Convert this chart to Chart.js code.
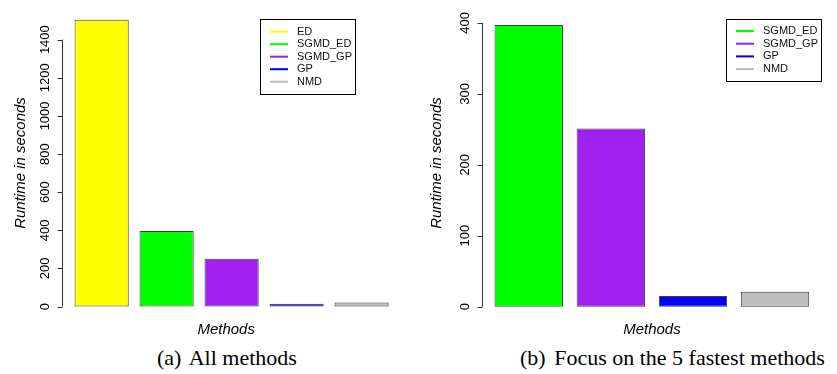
<!DOCTYPE html>
<html lang="en">
<head>
<meta charset="UTF-8">
<title>Runtime comparison</title>
<script src="https://cdn.jsdelivr.net/npm/chart.js"></script>
<style>
    body {
        margin: 0;
        background: #fff;
        width: 837px;
        height: 374px;
        position: relative;
        overflow: hidden;
    }
    .panel { position: absolute; top: 0; }
    .panel canvas { display: block; }
    .caption {
        position: absolute;
        top: 346px;
        font-family: "Liberation Serif", "Times New Roman", serif;
        font-size: 22px;
        line-height: 24px;
        white-space: nowrap;
        color: #000;
    }
    .caption span { margin-right: 3px; }
</style>
</head>
<body>
<div class="panel" style="left:0"><canvas id="allChart" width="420" height="345"></canvas></div>
<div class="panel" style="left:420px"><canvas id="fastChart" width="417" height="345"></canvas></div>
<div class="caption" style="left:157px"><span>(a)</span> All methods</div>
<div class="caption" style="left:520px"><span>(b)</span> Focus on the 5 fastest methods</div>

<script>
// (a) all methods
const allMethods = ['ED', 'SGMD_ED', 'SGMD_GP', 'GP', 'NMD'];
const allRuntimes = [1505, 396, 251, 15, 21];
const allColors = ['#ffff00', '#00ff00', '#a020f0', '#0000ff', '#bebebe'];
const allTicks = [0, 200, 400, 600, 800, 1000, 1200, 1400];

// (b) the fastest ones
const fastMethods = ['SGMD_ED', 'SGMD_GP', 'GP', 'NMD'];
const fastRuntimes = [397, 251, 15, 21];
const fastColors = ['#00ff00', '#a020f0', '#0000ff', '#bebebe'];
const fastTicks = [0, 100, 200, 300, 400];

const sans = '"Liberation Sans", Arial, sans-serif';

// R style y axis: line from first to last tick, outward tick marks
const axisLine = {
    id: 'axisLine',
    afterDraw(chart) {
        const y = chart.scales.y;
        const ctx = chart.ctx;
        const x = Math.floor(chart.chartArea.left) + 0.5;
        const t = y.ticks;
        ctx.save();
        ctx.strokeStyle = '#333';
        ctx.lineWidth = 1;
        ctx.beginPath();
        ctx.moveTo(x, y.getPixelForValue(t[0].value));
        ctx.lineTo(x, y.getPixelForValue(t[t.length - 1].value));
        t.forEach(tk => {
            const py = Math.round(y.getPixelForValue(tk.value)) + 0.5;
            ctx.moveTo(x - 5, py);
            ctx.lineTo(x, py);
        });
        ctx.stroke();
        ctx.restore();
    }
};

// boxed legend with coloured line keys
const boxLegend = {
    id: 'boxLegend',
    afterDraw(chart, args, o) {
        const ctx = chart.ctx;
        const ds = chart.data.datasets[0];
        ctx.save();
        ctx.strokeStyle = '#000';
        ctx.lineWidth = 1;
        ctx.strokeRect(o.x + 0.5, o.y + 0.5, o.w, o.h);
        ctx.font = '11px ' + sans;
        ctx.textBaseline = 'middle';
        ctx.fillStyle = '#111';
        chart.data.labels.forEach((lab, i) => {
            const ry = o.rowY + i * o.rowStep;
            ctx.strokeStyle = ds.backgroundColor[i];
            ctx.lineWidth = 2;
            ctx.beginPath();
            ctx.moveTo(o.lineX1, ry);
            ctx.lineTo(o.lineX2, ry);
            ctx.stroke();
            ctx.fillText(lab, o.textX, ry);
        });
        ctx.restore();
    }
};

function makeChart(id, methods, runtimes, colors, ticks, cfg) {
    return new Chart(document.getElementById(id), {
        type: 'bar',
        data: {
            labels: methods,
            datasets: [{
                data: runtimes.map((v, i) => ({ x: i, y: v })),
                backgroundColor: colors,
                borderColor: '#404040',
                borderWidth: 1,
                borderSkipped: false,
                categoryPercentage: 1,
                barPercentage: 1 / 1.2
            }]
        },
        options: {
            responsive: false,
            animation: false,
            events: [],
            layout: { padding: { top: 8, right: cfg.padRight, left: 0, bottom: 0 } },
            plugins: {
                legend: { display: false },
                tooltip: { enabled: false },
                boxLegend: cfg.legend
            },
            scales: {
                x: {
                    type: 'linear',
                    offset: false,
                    min: cfg.xMin,
                    max: cfg.xMax,
                    afterBuildTicks: s => { s.ticks = methods.map((m, i) => ({ value: i })); },
                    afterFit: s => { s.height = 27; },
                    ticks: { display: false },
                    grid: { display: false },
                    border: { display: false },
                    title: {
                        display: true,
                        text: 'Methods',
                        color: '#000',
                        font: { family: sans, size: 15, style: 'italic' },
                        padding: { top: 0, bottom: 6 }
                    }
                },
                y: {
                    min: cfg.yMin,
                    max: cfg.yMax,
                    afterBuildTicks: s => { s.ticks = ticks.map(v => ({ value: v })); },
                    afterFit: s => { s.width = 62; },
                    border: { display: false },
                    grid: { display: false, tickLength: cfg.tickGap },
                    ticks: {
                        minRotation: 90,
                        maxRotation: 90,
                        crossAlign: 'center',
                        padding: 0,
                        color: '#000',
                        font: { family: sans, size: 13 },
                        callback: v => String(v)
                    },
                    title: {
                        display: true,
                        text: 'Runtime in seconds',
                        color: '#000',
                        font: { family: sans, size: 15, style: 'italic' },
                        padding: { top: cfg.titlePad, bottom: 0 }
                    }
                }
            }
        },
        plugins: [axisLine, boxLegend]
    });
}

makeChart('allChart', allMethods, allRuntimes, allColors, allTicks, {
    xMin: -0.61, xMax: 4.443, yMin: -60, yMax: 1566,
    padRight: 29.6, tickGap: 2, titlePad: 12,
    legend: { x: 260, y: 19, w: 95, h: 75, lineX1: 270, lineX2: 288, textX: 297, rowY: 31.7, rowStep: 12.5 }
});

makeChart('fastChart', fastMethods, fastRuntimes, fastColors, fastTicks, {
    xMin: -0.57, xMax: 3.57, yMin: -16, yMax: 421,
    padRight: 15.2, tickGap: 6, titlePad: 8,
    legend: { x: 306, y: 19, w: 95, h: 62, lineX1: 316, lineX2: 334, textX: 343, rowY: 31, rowStep: 12.7 }
});
</script>
</body>
</html>
